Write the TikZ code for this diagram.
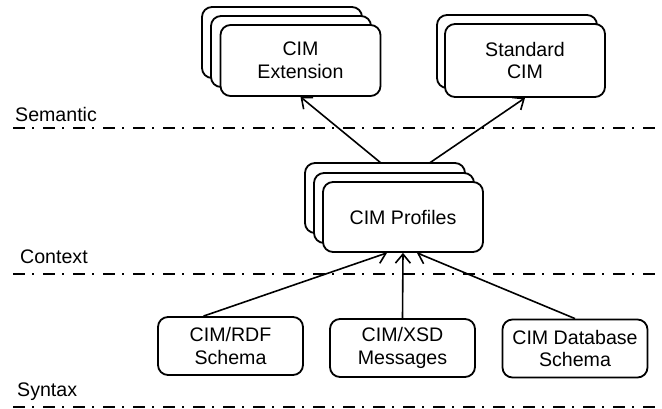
\documentclass[tikz,border=0pt]{standalone}
\usepackage{fontspec}
\setmainfont{Liberation Sans}
\usetikzlibrary{arrows.meta,calc}
\pgfdeclarelayer{background}
\pgfsetlayers{background,main}
\begin{document}
\begin{tikzpicture}[x=1pt,y=-1pt,
  txt/.style={font=\fontsize{19.6}{22.5}\selectfont},
  box/.style={draw, fill=white, rounded corners=10pt, line width=1.8pt,
    inner sep=0pt, align=center, txt},
  big/.style={box, minimum width=160pt, minimum height=71pt},
  small/.style={box, minimum width=145pt, minimum height=58pt},
  layer/.style={line width=1.8pt, dash pattern=on 12pt off 7pt on 2pt off 9pt},
  lbl/.style={anchor=base west, inner sep=0pt, txt},
  conn/.style={line width=1.6pt,
    -{Straight Barb[length=9pt,width=15pt,line width=1.6pt]}}]
\useasboundingbox (0,0) rectangle (662,409);

% level separators
\draw[layer] (13,128) -- (662,128);
\draw[layer] (13,274) -- (662,274);
\draw[layer] (13,407) -- (662,407);

% level names
\node[lbl] (sem) at (15,122) {Semantic};
\node[lbl] (ctx) at (20,263) {Context};
\node[lbl] (syn) at (17,396) {Syntax};

% CIM Extension (stack of three)
\node[big] (ext3) at (282,42.5) {};
\node[big] (ext2) at (291,51.5) {};
\node[big] (ext1) at (300.5,60.5) {CIM\\Extension};

% Standard CIM (stack of two)
\node[big, minimum height=73pt] (std2) at (517,51.5) {};
\node[big, minimum height=73pt] (std1) at (525,60.5) {Standard\\CIM};

% CIM Profiles (stack of three)
\node[big, minimum height=70pt] (prof3) at (385,198) {};
\node[big, minimum height=70pt] (prof2) at (394,208) {};
\node[big, minimum height=70pt] (prof1) at (403,217) {CIM Profiles};

% syntax-level artefacts
\node[small] (rdf) at (230.5,346) {CIM/RDF\\Schema};
\node[small] (xsd) at (402.5,348) {CIM/XSD\\Messages};
\node[small] (db) at (575,348.5) {CIM Database\\Schema};

\begin{pgfonlayer}{background}
  \draw[conn] (prof1.north) -- (ext1.south);
  \draw[conn] (prof1.north) -- (std1.south);
  \draw[conn] ($(rdf.north)+(-27,0)$) -- ($(prof1.south)+(-16,0)$);
  \draw[conn] (xsd.north) -- (prof1.south);
  \draw[conn] (db.north) -- ($(prof1.south)+(14,0)$);
\end{pgfonlayer}
\end{tikzpicture}
\end{document}
